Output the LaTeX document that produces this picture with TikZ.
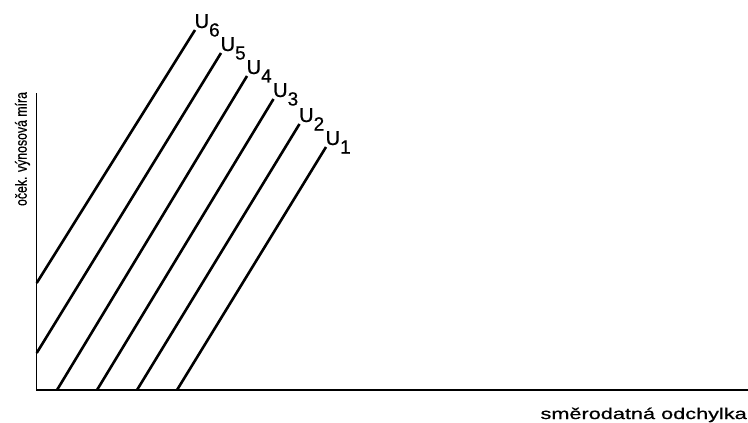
\documentclass[tikz,border=0pt]{standalone}
\usepackage{fontspec}
\setmainfont{Liberation Sans}[FakeBold=0.6]
\begin{document}
\begin{tikzpicture}[x=1pt,y=-1pt,
  axis/.style={line width=1.4pt},
  uline/.style={line width=2.6pt},
  ulabel/.style={anchor=base west, inner sep=0pt, font=\fontsize{20}{20}\selectfont},
  axlabel/.style={inner sep=0pt}]
\useasboundingbox (0,0) rectangle (748,423);
% axes
\coordinate (O) at (36.7,390);
\coordinate (ytop) at (36.7,93);
\coordinate (xend) at (748,390);
\draw[axis] (ytop) -- (O) -- (xend);
% indifference lines
\coordinate (b1) at (177,390); \coordinate (t1) at (326,147);
\coordinate (b2) at (137,390); \coordinate (t2) at (299.5,124);
\coordinate (b3) at (97,390);  \coordinate (t3) at (273.5,99);
\coordinate (b4) at (57,390);  \coordinate (t4) at (247,76);
\coordinate (b5) at (36.7,353); \coordinate (t5) at (221,53);
\coordinate (b6) at (36.7,283); \coordinate (t6) at (195,30);
\foreach \i in {1,...,6} {
  \draw[uline] (b\i) -- (t\i);
  \node[ulabel] (u\i) at ([xshift=-0.5pt,yshift=2pt]t\i) {U\raisebox{-8.5pt}{\fontsize{19}{19}\selectfont \i}};
}
% axis labels
\node[axlabel, rotate=90, font=\fontsize{12.3}{12.3}\selectfont] (ylab) at (22.5,149) {\scalebox{1}[1.3]{oček. výnosová míra}};
\node[axlabel, anchor=base east, font=\fontsize{15.5}{15.5}\selectfont] (xlab) at (747,419) {\scalebox{1.4}[1]{směrodatná odchylka}};
\end{tikzpicture}
\end{document}
